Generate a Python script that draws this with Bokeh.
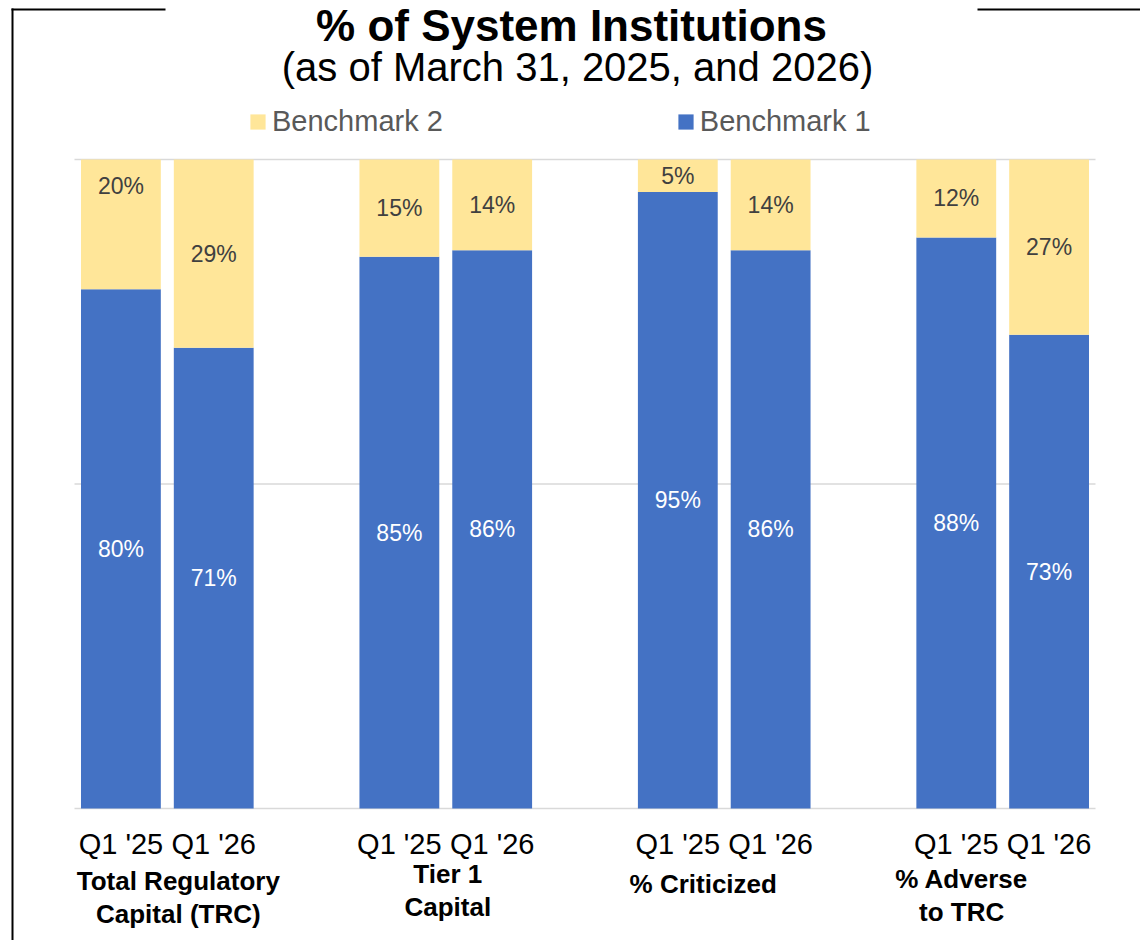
from bokeh.plotting import figure
from bokeh.models import (ColumnDataSource, Range1d, Legend, LegendItem, Label,
                          BoxAnnotation)
from bokeh.core.properties import value
from bokeh.embed import file_html
from bokeh.resources import INLINE

# ---- data ----
groups = ["Total Regulatory\nCapital (TRC)", "Tier 1\nCapital", "% Criticized", "% Adverse\nto TRC"]
quarters = ["Q1 '25", "Q1 '26"]
benchmark1 = [80, 71, 85, 86, 95, 86, 88, 73]
benchmark2 = [20, 29, 15, 14, 5, 14, 12, 27]
series_names = ["Benchmark 1", "Benchmark 2"]
gridline_values = [0, 0.5, 1]
title_text = "% of System Institutions"
subtitle_text = "(as of March 31, 2025, and 2026)"

# ---- hand nudges (pixels) copied from the reference's free-placed texts ----
b2_label_nudge = [-38, 0, 0, 0, 0, 0, 0, 0]
group_label_dx = [11, 2, -21, -41]
group_label_dy = [57, 50, 60, 55]

FONT = "Liberation Sans"
BLUE = "#4472C4"
YELLOW = "#FFE699"
GRID = "#D9D9D9"

# ---- layout (canvas pixels) ----
W, H = 1140, 940
PLOT_L, PLOT_R, PLOT_T, PLOT_B = 74, 1095, 159, 808

nq = len(quarters)
GAP = 1.0
xpos = [g * (nq + GAP) + q for g in range(len(groups)) for q in range(nq)]
gpos = [sum(xpos[g * nq:(g + 1) * nq]) / nq for g in range(len(groups))]
x_lo, x_hi = xpos[0] - 0.5, xpos[-1] + 0.5
ppx = (PLOT_R - PLOT_L) / (x_hi - x_lo)
ppy = (PLOT_B - PLOT_T) / 1.0

b1 = [v / 100 for v in benchmark1]
b2 = [v / 100 for v in benchmark2]
src = ColumnDataSource(dict(x=xpos, b1=b1, b2=b2))

p = figure(width=W, height=H, output_backend="svg", toolbar_location=None,
           x_range=Range1d(x_lo - PLOT_L / ppx, x_hi + (W - PLOT_R) / ppx),
           y_range=Range1d(-(H - PLOT_B) / ppy, 1 + PLOT_T / ppy),
           x_axis_location=None, y_axis_location=None, min_border=0)
p.outline_line_color = None
p.background_fill_color = "white"
p.border_fill_color = "white"
p.grid.visible = False

# grid lines (incl. baseline)
p.segment(x0=[x_lo] * len(gridline_values), x1=[x_hi] * len(gridline_values),
          y0=gridline_values, y1=gridline_values, line_color=GRID, line_width=1.5)

renderers = p.vbar_stack(["b1", "b2"], x="x", width=0.86, color=[BLUE, YELLOW],
                         line_color=None, source=src)

# data labels
lab_b1 = ColumnDataSource(dict(x=xpos, y=[v / 2 for v in b1],
                               t=[f"{v}%" for v in benchmark1]))
lab_b2 = ColumnDataSource(dict(x=xpos, y=[a + b / 2 for a, b in zip(b1, b2)],
                               t=[f"{v}%" for v in benchmark2], dy=b2_label_nudge))
p.text(x="x", y="y", text="t", source=lab_b1, text_align="center",
       text_baseline="middle", text_font=value(FONT), text_font_size="23px",
       text_color="white")
p.text(x="x", y="y", text="t", source=lab_b2, text_align="center",
       text_baseline="middle", text_font=value(FONT), text_font_size="23px",
       text_color="#404040", y_offset="dy")

# category labels (quarters and groups)
qsrc = ColumnDataSource(dict(x=xpos, y=[0] * len(xpos),
                             t=[quarters[i % nq] for i in range(len(xpos))]))
p.text(x="x", y="y", text="t", source=qsrc, text_align="center",
       text_baseline="middle", y_offset=35, text_font=value(FONT),
       text_font_size="29px", text_color="black")
gsrc = ColumnDataSource(dict(x=gpos, y=[0] * len(gpos), t=groups,
                             dx=group_label_dx, dy=group_label_dy))
p.text(x="x", y="y", text="t", source=gsrc, text_align="center",
       text_baseline="top", x_offset="dx", y_offset="dy", text_font=value(FONT),
       text_font_size="26px", text_font_style="bold", text_color="black",
       text_line_height=1.1)

# legend
legend = Legend(items=[LegendItem(label=series_names[1], renderers=[renderers[1]]),
                       LegendItem(label=series_names[0], renderers=[renderers[0]])],
                location=(248, H - 138), orientation="horizontal", spacing=233,
                padding=0, margin=0, border_line_color=None,
                background_fill_alpha=0, glyph_width=19, glyph_height=19,
                label_standoff=5, label_text_font=FONT, label_text_font_size="29px",
                label_text_color="#595959")
p.add_layout(legend, "center")

# titles
p.add_layout(Label(x=571, y=H - 25, x_units="screen", y_units="screen", text=title_text,
                   text_align="center", text_baseline="middle", text_font=FONT,
                   text_font_size="44px", text_font_style="bold", text_color="black"))
p.add_layout(Label(x=577, y=H - 66, x_units="screen", y_units="screen", text=subtitle_text,
                   text_align="center", text_baseline="middle", text_font=FONT,
                   text_font_size="40px", text_color="black"))

# surrounding frame lines
for l, r, b, t in [(11, 13, -10, H - 8), (11, 165, H - 10, H - 8), (977, W + 10, H - 10, H - 8)]:
    p.add_layout(BoxAnnotation(left=l, right=r, bottom=b, top=t, left_units="screen",
                               right_units="screen", bottom_units="screen",
                               top_units="screen", fill_color="black", fill_alpha=1,
                               line_color=None, level="overlay"))

open("out.html", "w").write(file_html(p, INLINE))
